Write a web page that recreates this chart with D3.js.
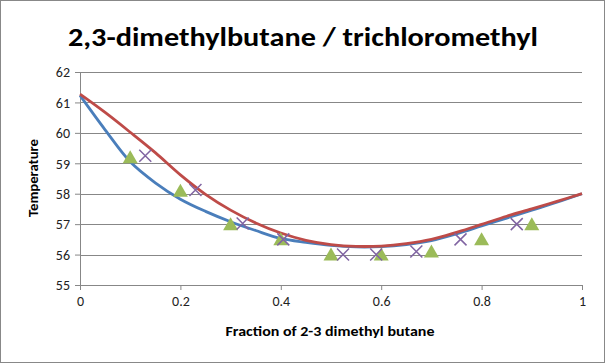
<!DOCTYPE html>
<html>
<head>
<meta charset="utf-8">
<script src="https://cdn.jsdelivr.net/npm/d3@7"></script>
<style>
body { margin: 0; background: #fff; }
text { font-family: Calibri, Carlito, "Open Sans", sans-serif; }
</style>
</head>
<body>
<svg></svg>
<script>
var screen = {width: 605, height: 363};
var margins = {top: 72, right: 23, bottom: 78, left: 80};

// measured points
var triX = [0.1, 0.2, 0.3, 0.4, 0.5, 0.6, 0.7, 0.8, 0.9];
var triY = [59.2, 58.1, 57.0, 56.5, 56.0, 56.0, 56.1, 56.5, 57.0];
var crossX = [0.13, 0.23, 0.324, 0.405, 0.524, 0.59, 0.67, 0.758, 0.87];
var crossY = [59.25, 58.12, 57.02, 56.5, 56.0, 56.0, 56.1, 56.5, 57.0];

// trendlines
var curveX = [0, 0.05, 0.1, 0.15, 0.2, 0.25, 0.3, 0.35, 0.4, 0.45, 0.5, 0.55, 0.6, 0.65, 0.7, 0.75, 0.8, 0.85, 0.9, 0.95, 1];
var blueY = [61.23, 60.1, 59.05, 58.36, 57.82, 57.42, 57.08, 56.79, 56.53, 56.4, 56.3, 56.25, 56.26, 56.33, 56.46, 56.68, 56.94, 57.2, 57.46, 57.72, 58.0];
var redY = [61.27, 60.67, 60.02, 59.35, 58.62, 57.98, 57.46, 57.04, 56.71, 56.47, 56.33, 56.27, 56.28, 56.36, 56.5, 56.73, 56.99, 57.26, 57.5, 57.75, 58.0];

var xTicks = [0, 0.2, 0.4, 0.6, 0.8, 1];
var yTicks = [55, 56, 57, 58, 59, 60, 61, 62];

var svg = d3.select("svg")
    .attr("width", screen.width)
    .attr("height", screen.height);

svg.append("rect")
    .attr("x", 0.5).attr("y", 0.5)
    .attr("width", screen.width - 1).attr("height", screen.height - 1)
    .attr("fill", "#fff").attr("stroke", "#888");

var width = screen.width - margins.left - margins.right;
var height = screen.height - margins.top - margins.bottom;

var xScale = d3.scaleLinear().domain([0, 1]).range([0, width]);
var yScale = d3.scaleLinear().domain([55, 62]).range([height, 0]);

var g = svg.append("g")
    .attr("transform", "translate(" + margins.left + "," + margins.top + ")");

// grid
g.selectAll(".grid")
    .data(yTicks.slice(1))
    .enter()
    .append("line")
    .attr("x1", 0).attr("x2", width)
    .attr("y1", function(d){ return Math.round(yScale(d)) + 0.5; })
    .attr("y2", function(d){ return Math.round(yScale(d)) + 0.5; })
    .attr("stroke", "#878787");

var yAxis = d3.axisLeft(yScale).tickValues(yTicks).tickSize(5).tickPadding(5)
    .tickFormat(d3.format("d"));
var xAxis = d3.axisBottom(xScale).tickValues(xTicks).tickSize(5).tickPadding(6)
    .tickFormat(function(d){ return d; });

var ya = g.append("g").call(yAxis);
var xa = g.append("g").attr("transform", "translate(0," + height + ")").call(xAxis);

[ya, xa].forEach(function(a){
    a.select(".domain").attr("stroke", "#878787");
    a.selectAll(".tick line").attr("stroke", "#878787");
    a.selectAll(".tick text").attr("font-size", 14).attr("fill", "#222")
        .style("font-family", "Calibri, Carlito, 'Open Sans', sans-serif");
});
ya.selectAll(".tick text").attr("dy", "0.34em");

var line = d3.line()
    .x(function(d){ return xScale(d[0]); })
    .y(function(d){ return yScale(d[1]); })
    .curve(d3.curveCatmullRom);

g.append("path")
    .datum(d3.zip(curveX, blueY))
    .attr("d", line)
    .attr("fill", "none")
    .attr("stroke", "#4A7EBB")
    .attr("stroke-width", 2.8);

g.append("path")
    .datum(d3.zip(curveX, redY))
    .attr("d", line)
    .attr("fill", "none")
    .attr("stroke", "#BE4B48")
    .attr("stroke-width", 2.8);

// triangles
g.selectAll(".tri")
    .data(d3.zip(triX, triY))
    .enter()
    .append("path")
    .attr("d", "M0,-7L7.5,6L-7.5,6Z")
    .attr("transform", function(d){ return "translate(" + xScale(d[0]) + "," + yScale(d[1]) + ")"; })
    .attr("fill", "#9BBB59");

// crosses
g.selectAll(".cross")
    .data(d3.zip(crossX, crossY))
    .enter()
    .append("path")
    .attr("d", "M-6,-6L6,6M-6,6L6,-6")
    .attr("transform", function(d){ return "translate(" + xScale(d[0]) + "," + yScale(d[1]) + ")"; })
    .attr("stroke", "#8064A2")
    .attr("stroke-width", 1.5)
    .attr("fill", "none");

svg.append("text")
    .attr("x", 303).attr("y", 46)
    .attr("text-anchor", "middle")
    .attr("font-size", 26).attr("font-weight", "bold")
    .attr("textLength", 470).attr("lengthAdjust", "spacingAndGlyphs")
    .text("2,3-dimethylbutane / trichloromethyl");

svg.append("text")
    .attr("x", 330).attr("y", 336)
    .attr("text-anchor", "middle")
    .attr("font-size", 13).attr("font-weight", "bold")
    .attr("textLength", 209).attr("lengthAdjust", "spacingAndGlyphs")
    .text("Fraction of 2-3 dimethyl butane");

svg.append("text")
    .attr("transform", "translate(38,178) rotate(-90)")
    .attr("text-anchor", "middle")
    .attr("font-size", 13).attr("font-weight", "bold")
    .attr("textLength", 78).attr("lengthAdjust", "spacingAndGlyphs")
    .text("Temperature");
</script>
</body>
</html>
